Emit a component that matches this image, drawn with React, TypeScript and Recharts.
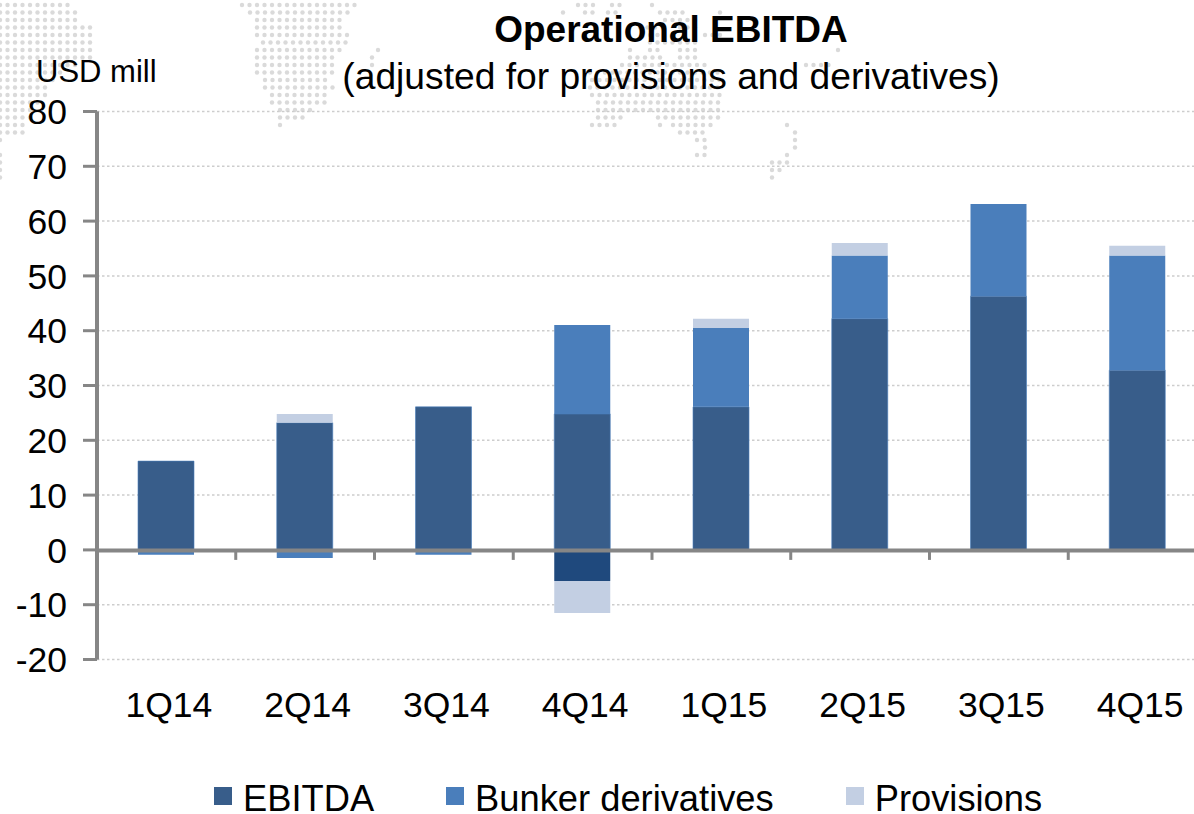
import React from "react";
import { ComposedChart, Bar, XAxis, YAxis, CartesianGrid, Legend, ReferenceLine } from "recharts";

const quarters = ["1Q14", "2Q14", "3Q14", "4Q14", "1Q15", "2Q15", "3Q15", "4Q15"];
const ebitda = [16.2, 23.2, 26.1, 24.8, 26.1, 42.2, 46.3, 32.8];
const bunkerPositive = [0, 0, 0, 16.25, 14.4, 11.5, 16.8, 20.9];
const bunkerNegative = [-0.9, -1.5, -0.9, 0, 0, 0, 0, 0];
const otherNegative = [0, 0, 0, -5.66, 0, 0, 0, 0];
const provisionsPositive = [0, 1.6, 0, 0, 1.7, 2.3, 0, 1.8];
const provisionsNegative = [0, 0, 0, -5.84, 0, 0, 0, 0];
const yTicks = [-20, -10, 0, 10, 20, 30, 40, 50, 60, 70, 80];

const table = quarters.map((q, i) => ({
  q,
  ebitda: ebitda[i],
  bunkerPositive: bunkerPositive[i],
  bunkerNegative: bunkerNegative[i],
  otherNegative: otherNegative[i],
  provisionsPositive: provisionsPositive[i],
  provisionsNegative: provisionsNegative[i],
}));

// Decorative dotted world map behind the chart: [row y, [from x, to x], ...]
const mapRows: [number, ...[number, number][]][] = [
  [5, [0, 68], [242, 358], [578, 600], [612, 622], [652, 652]],
  [12.5, [0, 75], [250, 350], [563, 563], [585, 595], [608, 620], [660, 685], [720, 720]],
  [20, [0, 82], [257, 343], [665, 700]],
  [27.5, [0, 90], [257, 343], [640, 655], [680, 700]],
  [35, [0, 97], [257, 350], [650, 660], [705, 720]],
  [42.5, [0, 97], [263, 350], [650, 700]],
  [50, [0, 97], [257, 343], [378, 378], [630, 630], [650, 660], [680, 695], [838, 838]],
  [57.5, [0, 90], [257, 335], [372, 378], [630, 660], [680, 700]],
  [65, [0, 75], [257, 335], [372, 378], [622, 705], [806, 832]],
  [72.5, [0, 62], [257, 335], [590, 720]],
  [80, [0, 55], [265, 328], [592, 722]],
  [87.5, [0, 52], [265, 335], [590, 722]],
  [95, [0, 50], [272, 328], [592, 722]],
  [102.5, [0, 40], [272, 328], [598, 722]],
  [110, [0, 30], [280, 312], [598, 722]],
  [117.5, [0, 30], [280, 305], [598, 622], [658, 722]],
  [125, [0, 25], [280, 280], [592, 618], [660, 660], [673, 712], [787, 787]],
  [132.5, [0, 23], [680, 705], [795, 802]],
  [140, [0, 6], [697, 705], [795, 802]],
  [147.5, [705, 705], [795, 795]],
  [155, [0, 0], [697, 705], [787, 787]],
  [162.5, [0, 0], [772, 787]],
  [170, [0, 0], [772, 780]],
  [177.5, [0, 0], [772, 772]],
];
const mapStep = 7.5;

const axisColor = "#868686";
const colors = { ebitda: "#385D8A", bunker: "#4A7EBB", navy: "#1F497D", provisions: "#C3CFE3" };
const font = '"Liberation Sans", Arial, sans-serif';

function WorldMap() {
  const dots: React.ReactNode[] = [];
  mapRows.forEach(([y, ...spans]) => {
    spans.forEach(([a, b]) => {
      for (let x = a; x <= b; x += mapStep) {
        dots.push(<circle key={`${y}-${x}`} cx={x} cy={y} r={2.2} fill="#DADADA" />);
      }
    });
  });
  return (
    <svg width={1194} height={200} style={{ position: "absolute", left: 0, top: 0 }}>
      {dots}
    </svg>
  );
}

function ZeroLine(props: any) {
  const { x1, x2, y1 } = props;
  const step = (x2 - x1) / quarters.length;
  return (
    <g>
      {quarters.slice(1).map((q, i) => (
        <line key={q} x1={x1 + step * (i + 1)} x2={x1 + step * (i + 1)} y1={y1} y2={y1 + 10} stroke={axisColor} strokeWidth={3} />
      ))}
      <line x1={x1} x2={x2} y1={y1 + 0.5} y2={y1 + 0.5} stroke={axisColor} strokeWidth={4} />
    </g>
  );
}

function LegendBox(props: any) {
  const items = (props.payload || []).filter((p: any) => p.type !== "none");
  return (
    <div style={{ display: "flex", gap: 72, fontFamily: font, fontSize: 36.3, lineHeight: "28px", color: "#000", whiteSpace: "nowrap" }}>
      {items.map((p: any) => (
        <div key={p.value} style={{ display: "flex", alignItems: "center" }}>
          <span style={{ width: 18, height: 18, background: p.color, marginRight: 11, display: "inline-block", position: "relative", top: -3 }} />
          {p.value}
        </div>
      ))}
    </div>
  );
}

export default function App() {
  return (
    <div style={{ position: "absolute", left: 0, top: 0, width: 1194, height: 814, overflow: "hidden", background: "#fff", fontFamily: font }}>
      <WorldMap />
      <div style={{ position: "absolute", left: 0, top: 0 }}>
        <ComposedChart
          width={1210}
          height={814}
          data={table}
          stackOffset="sign"
          barCategoryGap={0}
          margin={{ top: 111.5, right: 3, left: 0, bottom: 66.5 }}
        >
          <CartesianGrid horizontal vertical={false} stroke="#CDCDCD" strokeWidth={1.5} strokeDasharray="2.5 2.5" />
          <XAxis
            dataKey="q"
            axisLine={false}
            tickLine={false}
            height={60}
            tickMargin={26}
            interval={0}
            tick={{ fontSize: 35.5, fill: "#000", fontFamily: font, dx: 2.5 }}
          />
          <YAxis
            width={97}
            domain={[-20, 80]}
            ticks={yTicks}
            interval={0}
            allowDataOverflow
            axisLine={{ stroke: axisColor, strokeWidth: 4 }}
            tickLine={{ stroke: axisColor, strokeWidth: 3 }}
            tickSize={14}
            tickMargin={16}
            tick={{ fontSize: 35.5, fill: "#000", fontFamily: font }}
          />
          <Bar dataKey="ebitda" name="EBITDA" stackId="a" barSize={56} fill={colors.ebitda} stroke={colors.bunker} strokeWidth={0.6} isAnimationActive={false} />
          <Bar dataKey="bunkerPositive" name="Bunker derivatives" stackId="a" barSize={56} fill={colors.bunker} isAnimationActive={false} />
          <Bar dataKey="bunkerNegative" legendType="none" stackId="a" barSize={56} fill={colors.bunker} isAnimationActive={false} />
          <Bar dataKey="otherNegative" legendType="none" stackId="a" barSize={56} fill={colors.navy} isAnimationActive={false} />
          <Bar dataKey="provisionsPositive" name="Provisions" stackId="a" barSize={56} fill={colors.provisions} isAnimationActive={false} />
          <Bar dataKey="provisionsNegative" legendType="none" stackId="a" barSize={56} fill={colors.provisions} isAnimationActive={false} />
          <ReferenceLine y={0} shape={ZeroLine} />
          <Legend content={LegendBox} itemSorter={null} wrapperStyle={{ left: 214, top: 785, width: 960 }} />
        </ComposedChart>
      </div>
      <div style={{ position: "absolute", left: 171, width: 1000, top: 8, textAlign: "center", fontWeight: 700, fontSize: 37, lineHeight: "44px", color: "#000" }}>
        Operational EBITDA
      </div>
      <div style={{ position: "absolute", left: 171, width: 1000, top: 54, textAlign: "center", fontSize: 37.2, lineHeight: "44px", color: "#000", whiteSpace: "nowrap" }}>
        (adjusted for provisions and derivatives)
      </div>
      <div style={{ position: "absolute", left: 36, top: 54, fontSize: 31, lineHeight: "36px", color: "#000" }}>USD mill</div>
    </div>
  );
}
